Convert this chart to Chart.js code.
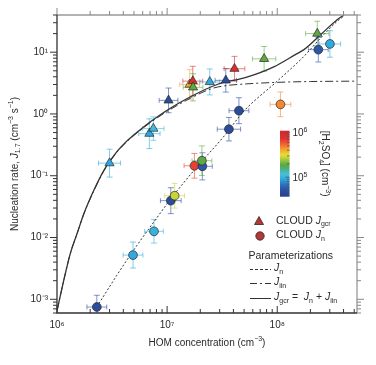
<!DOCTYPE html>
<html>
<head>
<meta charset="utf-8">
<script src="https://cdn.jsdelivr.net/npm/chart.js@4.4.1/dist/chart.umd.min.js"></script>
<style>
  html, body { margin: 0; padding: 0; background: #fff; }
</style>
</head>
<body>
<canvas id="chart" width="376" height="365"></canvas>
<script>
// CLOUD J_gcr measurements (triangles)
const gcrHom = [3.0e6, 6.9e6, 7.5e6, 1.03e7, 1.6e7, 1.71e7, 1.72e7, 2.44e7, 3.41e7, 4.09e7, 7.6e7, 2.31e8];
const gcrRate = [0.16, 0.48, 0.58, 1.66, 3.0, 3.4, 2.7, 3.3, 3.5, 5.4, 7.8, 20];
const gcrH2so4 = [9.3e4, 9.3e4, 1.1e5, 4.8e4, 4.0e5, 8.3e5, 1.9e5, 9.3e4, 4.8e4, 8.3e5, 1.9e5, 1.9e5];
const gcrHomErr = [0.1, 0.097, 0.097, 0.085, 0.09, 0.09, 0.09, 0.09, 0.097, 0.094, 0.106, 0.106];   // decades
const gcrRateErr = [0.226, 0.24, 0.19, 0.2, 0.24, 0.24, 0.22, 0.21, 0.19, 0.2, 0.2, 0.2];          // decades

// CLOUD J_n measurements (circles)
const nHom = [2.3e6, 4.9e6, 7.6e6, 1.08e7, 1.17e7, 1.77e7, 2.09e7, 2.07e7, 3.64e7, 4.49e7, 1.07e8, 2.36e8, 3.01e8];
const nRate = [7.5e-4, 5.2e-3, 0.0126, 0.0395, 0.0475, 0.145, 0.142, 0.175, 0.567, 1.13, 1.43, 11, 13.6];
const nH2so4 = [4.8e4, 9.3e4, 1.0e5, 4.8e4, 2.8e5, 6.6e5, 5.5e4, 1.9e5, 4.8e4, 4.8e4, 4.7e5, 5.5e4, 9.3e4];
const nHomErr = [0.09, 0.09, 0.085, 0.094, 0.09, 0.094, 0.09, 0.09, 0.106, 0.09, 0.094, 0.09, 0.097];
const nRateErr = [0.19, 0.21, 0.19, 0.21, 0.2, 0.2, 0.22, 0.24, 0.19, 0.21, 0.2, 0.2, 0.215];

// parameterization curves
const jnHom = [2.4e6, 3.47e6, 5.25e6, 7.6e6, 1.1e7, 1.86e7, 3.3e7, 5.0e7, 1.0e8, 1.74e8, 2.45e8, 3.5e8, 4.0e8];
const jnRate = [8.5e-4, 2.4e-3, 7.2e-3, 0.018, 0.044, 0.138, 0.44, 1.12, 3.4, 8.5, 16.6, 31.6, 38];
const jiinHom = [1e6, 1.15e6, 1.32e6, 1.52e6, 1.75e6, 2.15e6, 2.65e6, 3.5e6, 4.2e6, 5e6, 6e6, 7e6, 1e7, 1.63e7, 2.5e7, 3.3e7, 5e7, 1e8, 2e8, 5.3e8];
const jiinRate = [6.5e-4, 2.0e-3, 5.5e-3, 0.0115, 0.024, 0.056, 0.118, 0.24, 0.34, 0.45, 0.585, 0.72, 1.1, 1.8, 2.55, 2.85, 3.05, 3.25, 3.35, 3.4];
const jgcrHom = [1e6, 1.15e6, 1.32e6, 1.52e6, 1.75e6, 2.15e6, 2.65e6, 3.5e6, 4.2e6, 5e6, 6e6, 7e6, 1e7, 1.63e7, 2.85e7, 5.3e7, 9.3e7, 1.5e8, 1.75e8, 2.5e8, 3.5e8, 4.04e8];
const jgcrRate = [6.5e-4, 2.0e-3, 5.5e-3, 0.0115, 0.024, 0.057, 0.12, 0.245, 0.35, 0.46, 0.6, 0.74, 1.15, 1.9, 3.0, 3.95, 5.8, 9.4, 11, 19.5, 33.6, 40];

// axis ticks
const xTicks = [1e6, 1e7, 1e8];
const yTicks = [1e-3, 1e-2, 1e-1, 1, 10];
const cbTicks = [1e5, 1e6];

const FONT = '"Liberation Sans", Arial, Helvetica, sans-serif';
const INK = '#2a2a2a';

// colour bar range (log10 of [H2SO4])
const cbMin = 4.565, cbMax = 6.04;
const jetStops = [
    [0.00, [40, 60, 140]], [0.10, [44, 80, 160]], [0.18, [47, 111, 184]],
    [0.27, [47, 168, 224]], [0.34, [72, 192, 216]], [0.42, [79, 176, 128]],
    [0.48, [90, 168, 69]], [0.56, [160, 200, 64]], [0.63, [232, 224, 48]],
    [0.72, [245, 160, 48]], [0.80, [240, 96, 48]], [0.88, [224, 48, 48]],
    [1.00, [208, 42, 42]]
];

function jetRgb(t) {
    t = Math.max(0, Math.min(1, t));
    for (let i = 1; i < jetStops.length; i++) {
        if (t <= jetStops[i][0]) {
            const [t0, c0] = jetStops[i - 1], [t1, c1] = jetStops[i];
            const f = (t - t0) / (t1 - t0);
            return c0.map((c, k) => Math.round(c + (c1[k] - c) * f));
        }
    }
    return jetStops[jetStops.length - 1][1];
}
function h2so4Color(v, alpha) {
    const c = jetRgb((Math.log10(v) - cbMin) / (cbMax - cbMin));
    return `rgba(${c[0]},${c[1]},${c[2]},${alpha === undefined ? 1 : alpha})`;
}

const supMap = { '0': '⁰', '1': '¹', '2': '²', '3': '³', '4': '⁴', '5': '⁵', '6': '⁶', '7': '⁷', '8': '⁸', '9': '⁹', '-': '⁻' };
function powLabel(v) {
    const e = String(Math.round(Math.log10(v)));
    return '10' + e.split('').map(c => supMap[c]).join('');
}

// text with italic / sub / sup parts: [text, kind]
function richText(ctx, parts, x, y, size, align) {
    const fontFor = k => (k.includes('i') ? 'italic ' : '') +
        ((k.includes('sub') || k.includes('sup')) ? Math.round(size * 0.68) : size) + 'px ' + FONT;
    let w = 0;
    parts.forEach(([t, k]) => { ctx.font = fontFor(k); w += ctx.measureText(t).width; });
    let cx = align === 'center' ? x - w / 2 : x;
    ctx.textAlign = 'left';
    ctx.textBaseline = 'middle';
    parts.forEach(([t, k]) => {
        ctx.font = fontFor(k);
        const dy = k.includes('sub') ? size * 0.32 : k.includes('sup') ? -size * 0.36 : 0;
        ctx.fillText(t, cx, y + dy);
        cx += ctx.measureText(t).width;
    });
}

function toPoints(xs, ys) {
    return xs.map((v, i) => ({ x: v, y: ys[i] }));
}

// error bars behind the markers
const errorBars = {
    id: 'errorBars',
    beforeDatasetsDraw(chart) {
        const { ctx, scales: { x, y } } = chart;
        ctx.save();
        ctx.lineWidth = 1;
        chart.data.datasets.forEach(ds => {
            if (!ds.errX) return;
            ds.data.forEach((p, j) => {
                const px = x.getPixelForValue(p.x), py = y.getPixelForValue(p.y);
                const xl = x.getPixelForValue(p.x / Math.pow(10, ds.errX[j]));
                const xr = x.getPixelForValue(p.x * Math.pow(10, ds.errX[j]));
                const yt = y.getPixelForValue(p.y * Math.pow(10, ds.errY[j]));
                const yb = y.getPixelForValue(p.y / Math.pow(10, ds.errY[j]));
                ctx.strokeStyle = h2so4Color(ds.h2so4[j], 0.6);
                ctx.beginPath();
                ctx.moveTo(xl, py); ctx.lineTo(xr, py);
                ctx.moveTo(xl, py - 2.5); ctx.lineTo(xl, py + 2.5);
                ctx.moveTo(xr, py - 2.5); ctx.lineTo(xr, py + 2.5);
                ctx.moveTo(px, yt); ctx.lineTo(px, Math.min(yb, chart.chartArea.bottom));
                ctx.moveTo(px - 3, yt); ctx.lineTo(px + 3, yt);
                if (yb < chart.chartArea.bottom) { ctx.moveTo(px - 3, yb); ctx.lineTo(px + 3, yb); }
                ctx.stroke();
            });
        });
        ctx.restore();
    }
};

// frame, tick marks, titles, legend and colour bar
const decorations = {
    id: 'decorations',
    afterDraw(chart) {
        const { ctx, chartArea: ca, scales: { x, y } } = chart;
        ctx.save();

        // frame
        ctx.lineWidth = 1.3;
        ctx.strokeStyle = '#999';
        ctx.beginPath();
        ctx.moveTo(ca.left, ca.top); ctx.lineTo(ca.right, ca.top); ctx.lineTo(ca.right, ca.bottom);
        ctx.stroke();
        ctx.strokeStyle = '#333';
        ctx.beginPath();
        ctx.moveTo(ca.left, ca.top); ctx.lineTo(ca.left, ca.bottom); ctx.lineTo(ca.right, ca.bottom);
        ctx.stroke();

        // tick marks
        ctx.lineWidth = 1;
        for (let k = 5; k <= 9; k++) {
            for (let m = 1; m <= 9; m++) {
                const v = m * Math.pow(10, k);
                if (v < x.min * 0.999 || v > x.max) continue;
                const px = x.getPixelForValue(v);
                const len = m === 1 ? 7 : 4;
                ctx.strokeStyle = '#333';
                ctx.beginPath(); ctx.moveTo(px, ca.bottom); ctx.lineTo(px, ca.bottom - len); ctx.stroke();
                ctx.strokeStyle = '#888';
                ctx.beginPath(); ctx.moveTo(px, ca.top); ctx.lineTo(px, ca.top - len); ctx.stroke();
            }
        }
        for (let k = -4; k <= 1; k++) {
            for (let m = 1; m <= 9; m++) {
                const v = m * Math.pow(10, k);
                if (v < y.min || v > y.max) continue;
                const py = y.getPixelForValue(v);
                const len = m === 1 ? 7 : 4;
                ctx.strokeStyle = '#333';
                ctx.beginPath(); ctx.moveTo(ca.left, py); ctx.lineTo(ca.left - len, py); ctx.stroke();
                ctx.strokeStyle = '#888';
                ctx.beginPath(); ctx.moveTo(ca.right, py); ctx.lineTo(ca.right + len, py); ctx.stroke();
            }
        }

        ctx.fillStyle = INK;
        // axis titles
        richText(ctx, [['HOM concentration (cm', ''], ['−3', 'sup'], [')', '']],
            (ca.left + ca.right) / 2, 343, 10, 'center');
        ctx.save();
        ctx.translate(15, (ca.top + ca.bottom) / 2);
        ctx.rotate(-Math.PI / 2);
        richText(ctx, [['Nucleation rate, ', ''], ['J', 'i'], ['1.7', 'sub'], [' (cm', ''], ['−3', 'sup'],
            [' s', ''], ['−1', 'sup'], [')', '']], 0, 0, 10, 'center');
        ctx.restore();

        // colour bar
        const cbL = ca.left + 223, cbR = ca.left + 232.5, cbT = 130.7, cbB = 196.7;
        const cbPix = v => cbB - (Math.log10(v) - cbMin) / (cbMax - cbMin) * (cbB - cbT);
        const grad = ctx.createLinearGradient(0, cbB, 0, cbT);
        jetStops.forEach(([t, c]) => grad.addColorStop(t, `rgb(${c[0]},${c[1]},${c[2]})`));
        ctx.fillStyle = grad;
        ctx.fillRect(cbL, cbT, cbR - cbL, cbB - cbT);
        ctx.strokeStyle = '#555';
        ctx.lineWidth = 0.8;
        for (let k = 4; k <= 6; k++) {
            for (let m = 1; m <= 9; m++) {
                const v = m * Math.pow(10, k);
                const lv = Math.log10(v);
                if (lv < cbMin || lv > cbMax) continue;
                const py = cbPix(v);
                ctx.beginPath(); ctx.moveTo(cbR, py); ctx.lineTo(cbR - (m === 1 ? 4 : 2.5), py); ctx.stroke();
            }
        }
        ctx.fillStyle = INK;
        cbTicks.forEach(v => {
            richText(ctx, [['10', ''], [String(Math.log10(v)), 'sup']], cbR + 3, cbPix(v) + 1, 10, 'left');
        });
        ctx.save();
        ctx.translate(cbR + 35, (cbT + cbB) / 2);
        ctx.rotate(Math.PI / 2);
        richText(ctx, [['[H', ''], ['2', 'sub'], ['SO', ''], ['4', 'sub'], ['] (cm', ''], ['−3', 'sup'], [')', '']],
            0, 0, 10, 'center');
        ctx.restore();

        // legend
        const lx = ca.left + 202;
        ctx.fillStyle = '#b03a3a';
        ctx.strokeStyle = '#3a2020';
        ctx.lineWidth = 0.8;
        ctx.beginPath();
        ctx.moveTo(lx, 216.5); ctx.lineTo(lx + 4.5, 224.5); ctx.lineTo(lx - 4.5, 224.5); ctx.closePath();
        ctx.fill(); ctx.stroke();
        ctx.beginPath();
        ctx.arc(lx + 1, 236, 4.2, 0, Math.PI * 2);
        ctx.fill(); ctx.stroke();
        ctx.fillStyle = INK;
        const tx = ca.left + 219;
        richText(ctx, [['CLOUD ', ''], ['J', 'i'], ['gcr', 'sub']], tx, 221, 10.5, 'left');
        richText(ctx, [['CLOUD ', ''], ['J', 'i'], ['n', 'sub']], tx, 235.5, 10.5, 'left');
        richText(ctx, [['Parameterizations', '']], ca.left + 191.5, 256.5, 10.5, 'left');

        const sx0 = ca.left + 193, sx1 = ca.left + 214;
        const samples = [[[3, 2], 269.5], [[7, 3, 2, 3], 283.5], [[], 298.5]];
        ctx.strokeStyle = '#333';
        ctx.lineWidth = 1;
        samples.forEach(([dash, sy]) => {
            ctx.setLineDash(dash);
            ctx.beginPath(); ctx.moveTo(sx0, sy); ctx.lineTo(sx1, sy); ctx.stroke();
        });
        ctx.setLineDash([]);
        const lt = ca.left + 217;
        richText(ctx, [['J', 'i'], ['n', 'sub']], lt, 268.5, 10.5, 'left');
        richText(ctx, [['J', 'i'], ['iin', 'sub']], lt, 282.5, 10.5, 'left');
        richText(ctx, [['J', 'i'], ['gcr', 'sub'], [' =  ', ''], ['J', 'i'], ['n', 'sub'], [' + ', ''], ['J', 'i'], ['iin', 'sub']],
            lt, 297.5, 10.5, 'left');

        ctx.restore();
    }
};

const lineStyle = { borderColor: '#333', borderWidth: 1, pointRadius: 0, cubicInterpolationMode: 'monotone', fill: false };

new Chart(document.getElementById('chart').getContext('2d'), {
    type: 'scatter',
    data: {
        datasets: [
            {
                type: 'line', label: 'J_n', data: toPoints(jnHom, jnRate),
                ...lineStyle, borderDash: [2, 2], order: 5
            },
            {
                type: 'line', label: 'J_iin', data: toPoints(jiinHom, jiinRate),
                ...lineStyle, borderDash: [8, 3, 2, 3], order: 4
            },
            {
                type: 'line', label: 'J_gcr', data: toPoints(jgcrHom, jgcrRate),
                ...lineStyle, borderWidth: 1.3, order: 3
            },
            {
                label: 'CLOUD J_n', data: toPoints(nHom, nRate),
                pointStyle: 'circle', pointRadius: 4.4,
                backgroundColor: nH2so4.map(v => h2so4Color(v)),
                borderColor: 'rgba(35,35,35,0.85)', borderWidth: 0.8,
                errX: nHomErr, errY: nRateErr, h2so4: nH2so4, order: 2
            },
            {
                label: 'CLOUD J_gcr', data: toPoints(gcrHom, gcrRate),
                pointStyle: 'triangle', pointRadius: 5.3,
                backgroundColor: gcrH2so4.map(v => h2so4Color(v)),
                borderColor: 'rgba(35,35,35,0.85)', borderWidth: 0.8,
                errX: gcrHomErr, errY: gcrRateErr, h2so4: gcrH2so4, order: 1
            }
        ]
    },
    options: {
        responsive: false,
        animation: false,
        layout: { padding: { top: 14, right: 19, left: 0, bottom: 0 } },
        plugins: { legend: { display: false }, tooltip: { enabled: false } },
        scales: {
            x: {
                type: 'logarithmic', min: 1e6, max: 5.3e8,
                grid: { display: false, drawTicks: false },
                border: { display: false },
                afterBuildTicks: s => { s.ticks = xTicks.map(v => ({ value: v })); },
                afterFit: s => { s.height = 52; },
                ticks: {
                    padding: 6, color: INK, maxRotation: 0, autoSkip: false,
                    font: { family: FONT, size: 10 },
                    callback: v => powLabel(v)
                }
            },
            y: {
                type: 'logarithmic', min: 6e-4, max: 40,
                grid: { display: false, drawTicks: false },
                border: { display: false },
                afterBuildTicks: s => { s.ticks = yTicks.map(v => ({ value: v })); },
                afterFit: s => { s.width = 57; },
                ticks: {
                    padding: 9, color: INK, autoSkip: false,
                    font: { family: FONT, size: 10 },
                    callback: v => powLabel(v)
                }
            }
        }
    },
    plugins: [errorBars, decorations]
});
</script>
</body>
</html>
